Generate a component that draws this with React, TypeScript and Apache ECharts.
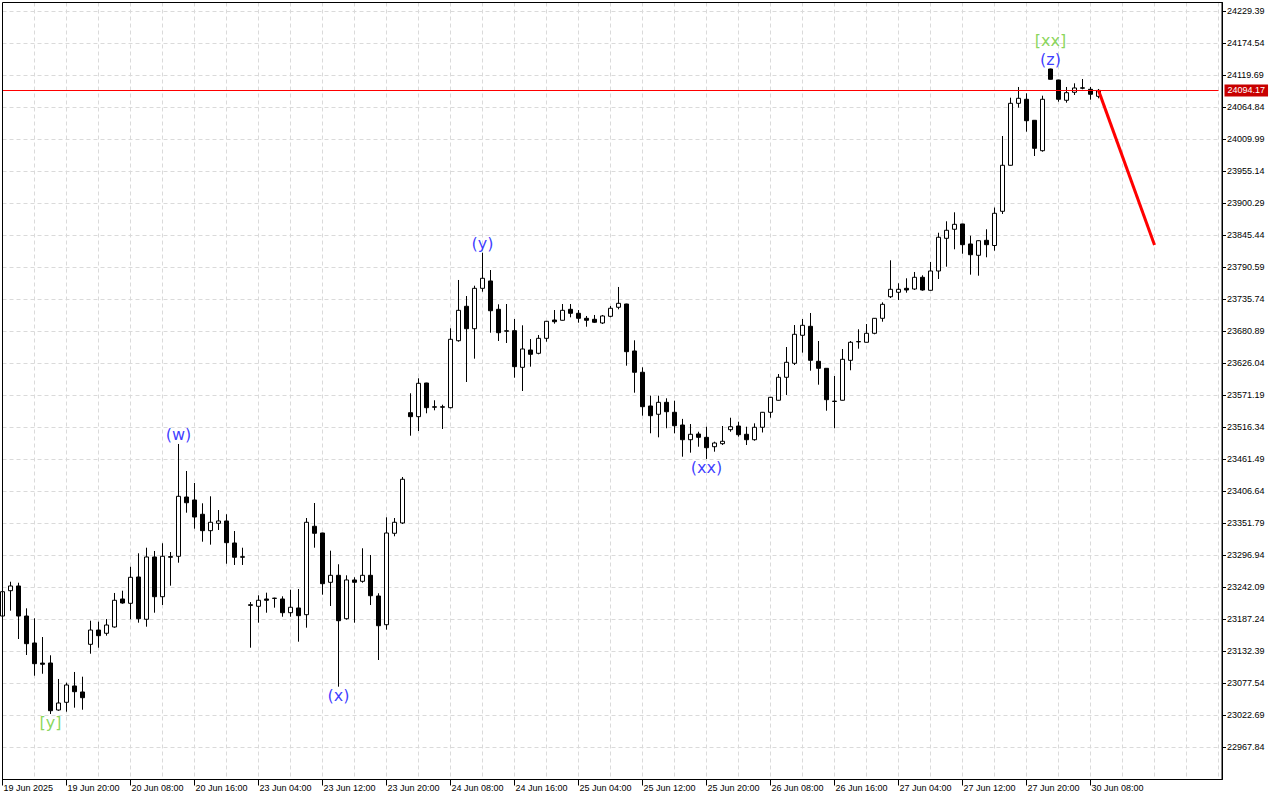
import React, { useEffect, useRef } from 'react';
import * as echarts from 'echarts';

// ---- data (hourly candles, 19 Jun 2025 12:00 onward) ----
const timeLabels = [
  '19 Jun 2025', '19 Jun 20:00', '20 Jun 08:00', '20 Jun 16:00', '23 Jun 04:00', '23 Jun 12:00',
  '23 Jun 20:00', '24 Jun 08:00', '24 Jun 16:00', '25 Jun 04:00', '25 Jun 12:00', '25 Jun 20:00',
  '26 Jun 08:00', '26 Jun 16:00', '27 Jun 04:00', '27 Jun 12:00', '27 Jun 20:00', '30 Jun 08:00',
];

const opens = [
  23193.2, 23236.6, 23244.7, 23193.2, 23147.0, 23112.5, 23112.7, 23032.1, 23045.3, 23073.3,
  23063.0, 23144.7, 23169.2, 23163.6, 23174.4, 23222.4, 23215.0, 23260.1, 23187.6, 23294.4,
  23226.3, 23295.0, 23295.6, 23397.2, 23392.1, 23367.6, 23339.5, 23352.1, 23356.1, 23318.4,
  23294.8, 23212.5, 23209.9, 23222.4, 23223.8, 23222.4, 23198.9, 23207.0, 23195.5, 23347.0,
  23335.5, 23251.0, 23263.0, 23188.6, 23255.0, 23252.7, 23263.0, 23227.5, 23178.3, 23335.0,
  23352.7, 23541.7, 23534.9, 23592.6, 23551.8, 23551.8, 23550.3, 23665.1, 23724.1, 23685.7,
  23754.9, 23767.5, 23718.9, 23682.0, 23682.3, 23619.5, 23649.2, 23643.5, 23669.2, 23700.6,
  23700.1, 23718.9, 23712.1, 23703.5, 23701.8, 23695.5, 23706.9, 23722.4, 23728.0, 23647.5,
  23611.0, 23553.2, 23539.0, 23559.5, 23542.4, 23520.6, 23495.4, 23505.2, 23499.5, 23483.4,
  23488.6, 23512.6, 23518.9, 23504.7, 23495.4, 23516.7, 23542.4, 23563.0, 23602.4, 23626.4,
  23674.4, 23689.8, 23629.8, 23617.8, 23561.5, 23563.0, 23631.5, 23663.6, 23662.4, 23677.8,
  23703.5, 23740.5, 23748.1, 23754.9, 23753.7, 23773.8, 23751.5, 23784.6, 23840.6, 23856.1,
  23865.2, 23830.9, 23811.5, 23837.2, 23828.3, 23886.9, 23965.8, 24072.0, 24078.9, 24042.9,
  23990.8, 24130.8, 24112.0, 24077.2, 24090.9, 24098.5, 24096.0, 24084.0,
];
const closes = [
  23234.9, 23244.7, 23193.2, 23145.8, 23111.5, 23110.5, 23030.9, 23044.1, 23075.0, 23063.5,
  23053.2, 23169.2, 23159.5, 23177.8, 23220.2, 23215.5, 23259.6, 23188.6, 23294.4, 23226.3,
  23295.6, 23294.0, 23398.4, 23387.4, 23362.9, 23339.5, 23353.9, 23356.1, 23318.9, 23293.9,
  23294.0, 23211.5, 23220.2, 23220.2, 23223.4, 23198.9, 23208.2, 23193.8, 23353.9, 23335.0,
  23248.6, 23263.0, 23185.2, 23255.0, 23251.0, 23263.0, 23228.0, 23176.6, 23335.5, 23353.9,
  23427.6, 23534.9, 23592.1, 23550.3, 23551.2, 23551.2, 23667.5, 23717.2, 23685.7, 23754.9,
  23772.1, 23716.5, 23678.8, 23681.5, 23620.6, 23650.9, 23641.8, 23669.2, 23698.4, 23697.7,
  23717.2, 23712.1, 23703.5, 23700.1, 23696.7, 23707.5, 23720.7, 23729.2, 23646.3, 23611.0,
  23552.0, 23536.6, 23559.5, 23543.4, 23519.4, 23495.4, 23504.7, 23499.5, 23481.7, 23489.8,
  23492.7, 23517.7, 23504.0, 23495.4, 23516.7, 23542.4, 23568.1, 23602.4, 23628.1, 23676.1,
  23691.5, 23631.5, 23617.8, 23564.0, 23561.0, 23633.2, 23662.4, 23663.2, 23677.8, 23703.5,
  23727.5, 23753.2, 23753.2, 23752.0, 23773.8, 23752.0, 23784.6, 23842.4, 23854.4, 23864.6,
  23829.7, 23812.5, 23836.5, 23829.7, 23883.5, 23965.8, 24072.0, 24080.6, 24042.2, 23994.9,
  24078.9, 24113.2, 24078.9, 24090.2, 24098.3, 24098.0, 24087.5, 24094.17,
];
const lows = [
  23189.8, 23202.3, 23153.8, 23126.4, 23090.9, 23094.3, 23025.3, 23030.9, 23029.2, 23036.1,
  23032.6, 23128.6, 23138.9, 23159.5, 23173.2, 23214.3, 23187.6, 23181.8, 23174.9, 23198.9,
  23212.1, 23245.2, 23284.6, 23370.3, 23342.9, 23320.6, 23315.5, 23340.7, 23282.9, 23280.7,
  23280.7, 23138.9, 23181.8, 23198.9, 23207.5, 23192.0, 23192.0, 23149.2, 23173.2, 23310.3,
  23229.8, 23210.4, 23072.1, 23186.9, 23181.8, 23250.3, 23212.1, 23117.8, 23169.8, 23329.9,
  23350.9, 23502.3, 23510.3, 23540.7, 23545.8, 23513.8, 23549.0, 23663.4, 23594.3, 23634.3,
  23749.1, 23678.8, 23664.6, 23661.2, 23601.7, 23578.9, 23620.6, 23641.8, 23663.4, 23694.3,
  23699.5, 23705.2, 23696.0, 23689.1, 23695.5, 23693.7, 23705.2, 23718.9, 23622.3, 23576.0,
  23536.6, 23506.4, 23499.5, 23515.0, 23506.4, 23466.3, 23473.2, 23483.4, 23462.4, 23474.9,
  23486.3, 23509.1, 23500.6, 23486.3, 23493.7, 23507.8, 23533.1, 23562.5, 23572.1, 23623.5,
  23644.6, 23613.7, 23589.7, 23545.1, 23515.0, 23562.5, 23614.4, 23651.4, 23662.0, 23676.1,
  23697.7, 23738.3, 23734.9, 23747.4, 23752.0, 23750.8, 23751.0, 23770.9, 23792.0, 23821.8,
  23814.2, 23778.3, 23776.5, 23808.1, 23819.4, 23882.3, 23965.3, 24064.5, 24023.4, 23981.7,
  23989.1, 24112.7, 24074.8, 24073.1, 24086.3, 24096.0, 24078.2, 24080.6,
];
const highs = [
  23246.4, 23252.0, 23250.3, 23206.4, 23189.3, 23157.2, 23125.9, 23085.3, 23078.9, 23097.3,
  23089.2, 23185.2, 23183.5, 23188.1, 23232.7, 23236.6, 23277.7, 23300.7, 23310.3, 23304.7,
  23317.9, 23302.9, 23488.1, 23441.8, 23421.2, 23386.4, 23398.4, 23374.9, 23367.6, 23338.9,
  23310.3, 23217.2, 23228.7, 23233.2, 23224.6, 23227.0, 23238.3, 23239.5, 23361.2, 23386.9,
  23336.0, 23305.2, 23281.9, 23263.0, 23259.6, 23309.3, 23297.8, 23232.2, 23362.4, 23361.2,
  23431.5, 23575.0, 23600.7, 23593.0, 23563.0, 23555.4, 23686.4, 23769.2, 23741.7, 23759.4,
  23816.0, 23786.3, 23727.5, 23728.0, 23702.3, 23691.5, 23668.0, 23674.9, 23699.0, 23717.7,
  23728.0, 23728.0, 23717.7, 23707.5, 23709.2, 23709.2, 23724.6, 23757.2, 23728.5, 23665.8,
  23619.5, 23570.9, 23570.9, 23566.4, 23562.3, 23531.1, 23522.3, 23509.1, 23517.7, 23492.0,
  23518.9, 23533.1, 23526.3, 23517.7, 23523.5, 23543.0, 23568.6, 23608.0, 23654.3, 23692.0,
  23702.3, 23712.6, 23664.6, 23618.3, 23604.6, 23650.9, 23664.6, 23684.7, 23693.7, 23704.0,
  23730.9, 23802.9, 23763.5, 23772.1, 23782.9, 23777.2, 23800.0, 23850.2, 23869.8, 23885.2,
  23865.6, 23845.1, 23837.0, 23856.1, 23893.4, 24016.0, 24081.6, 24100.0, 24089.2, 24043.4,
  24085.1, 24131.3, 24112.4, 24100.0, 24106.3, 24113.7, 24100.0, 24096.6,
];

const LAST_PRICE = 24094.17;
const forecastIdx = [137, 144];
const forecastPrice = [24094.17, 23829.2];

const BLUE = '#0a0aff';
const GREEN = '#6ccc30';
const waveLabels = [
  { idx: 6, text: '[y]', side: 'low', tier: 0, color: GREEN },
  { idx: 22, text: '(w)', side: 'high', tier: 0, color: BLUE },
  { idx: 42, text: '(x)', side: 'low', tier: 0, color: BLUE },
  { idx: 60, text: '(y)', side: 'high', tier: 0, color: BLUE },
  { idx: 88, text: '(xx)', side: 'low', tier: 0, color: BLUE },
  { idx: 131, text: '(z)', side: 'high', tier: 0, color: BLUE },
  { idx: 131, text: '[xx]', side: 'high', tier: 1, color: GREEN },
];

// price axis: ticks every 54.85 starting at 22967.84
const BASE = 22912.99;
const Y_TOP = 24244.81;
const Y_STEP = 54.85;
const N_SLOTS = 153;

const AXIS_FONT = 'Liberation Sans';
const LABEL_FONT = 'DejaVu Sans';

export default function App() {
  const ref = useRef<HTMLDivElement>(null);

  useEffect(() => {
    if (!ref.current) return;
    const chart = echarts.init(ref.current, undefined, { renderer: 'svg' });

    const cats = Array.from({ length: N_SLOTS }, (_, i) => String(i));
    const candles = opens.map((o, i) => [o - BASE, closes[i] - BASE, lows[i] - BASE, highs[i] - BASE]);
    const tickFn = (i: number) => i % 8 === 0 && i / 8 < timeLabels.length;

    const option: any = {
      animation: false,
      backgroundColor: '#ffffff',
      grid: { left: 2.5, top: 2.5, width: 1216, height: 777, containLabel: false },
      xAxis: {
        type: 'category',
        data: cats,
        boundaryGap: false,
        axisLine: { show: true, lineStyle: { color: '#000', width: 1 } },
        axisTick: { show: true, length: 6, interval: tickFn, lineStyle: { color: '#000', width: 1 } },
        axisLabel: {
          show: true,
          interval: tickFn,
          formatter: (_v: string, i: number) => timeLabels[i / 8] ?? '',
          align: 'left',
          margin: 4,
          padding: [0, 0, 0, 1],
          fontSize: 9,
          fontFamily: AXIS_FONT,
          color: '#000',
        },
        splitLine: {
          show: true,
          interval: (i: number) => i % 4 === 0,
          lineStyle: { color: '#dadada', type: [4, 3], width: 1 },
        },
      },
      yAxis: {
        type: 'value',
        position: 'right',
        offset: 3.5,
        min: 0,
        max: Y_TOP - BASE,
        interval: Y_STEP,
        axisLine: { show: true, lineStyle: { color: '#000', width: 1 } },
        axisTick: { show: true, length: 4, lineStyle: { color: '#000', width: 1 } },
        axisLabel: {
          showMinLabel: false,
          showMaxLabel: false,
          formatter: (v: number) => (v + BASE).toFixed(2),
          fontSize: 9,
          margin: 5,
          color: '#000',
          fontFamily: AXIS_FONT,
        },
        splitLine: { show: true, lineStyle: { color: '#dadada', type: [4, 3], width: 1 } },
      },
      graphic: [
        {
          type: 'rect',
          silent: true,
          z: 100,
          shape: { x: 2.5, y: 2.5, width: 1219.5, height: 777 },
          style: { fill: 'none', stroke: '#000', lineWidth: 1 },
        },
      ],
      series: [
        {
          type: 'candlestick',
          data: candles,
          barWidth: 5,
          clip: false,
          itemStyle: {
            color: '#ffffff',
            color0: '#000000',
            borderColor: '#000000',
            borderColor0: '#000000',
            borderColorDoji: '#000000',
            borderWidth: 1,
          },
          markLine: {
            silent: true,
            symbol: ['none', 'none'],
            data: [{ yAxis: LAST_PRICE - BASE }],
            lineStyle: { color: '#ff0000', width: 1, type: 'solid' },
            label: {
              show: true,
              position: 'end',
              formatter: LAST_PRICE.toFixed(2),
              color: '#ffffff',
              backgroundColor: '#c80000',
              padding: [2, 3, 1, 3],
              fontSize: 9,
              fontFamily: AXIS_FONT,
              distance: 6,
            },
          },
        },
        {
          type: 'line',
          data: forecastIdx.map((x, i) => [x, forecastPrice[i] - BASE]),
          symbol: 'none',
          lineStyle: { color: '#ff0000', width: 3 },
          z: 5,
          silent: true,
        },
        {
          type: 'scatter',
          symbolSize: 0,
          silent: true,
          z: 10,
          data: waveLabels.map((w) => ({
            value: [w.idx, (w.side === 'high' ? highs[w.idx] : lows[w.idx]) - BASE],
            label: {
              show: true,
              formatter: w.text,
              position: w.side === 'high' ? 'top' : 'bottom',
              distance: 1 + w.tier * 19,
              color: w.color,
              fontSize: 16,
              fontFamily: LABEL_FONT,
            },
          })),
        },
      ],
    };

    chart.setOption(option);
    return () => chart.dispose();
  }, []);

  return (
    <div
      ref={ref}
      style={{ position: 'fixed', left: 0, top: 0, width: 1280, height: 800, background: '#fff' }}
    />
  );
}
